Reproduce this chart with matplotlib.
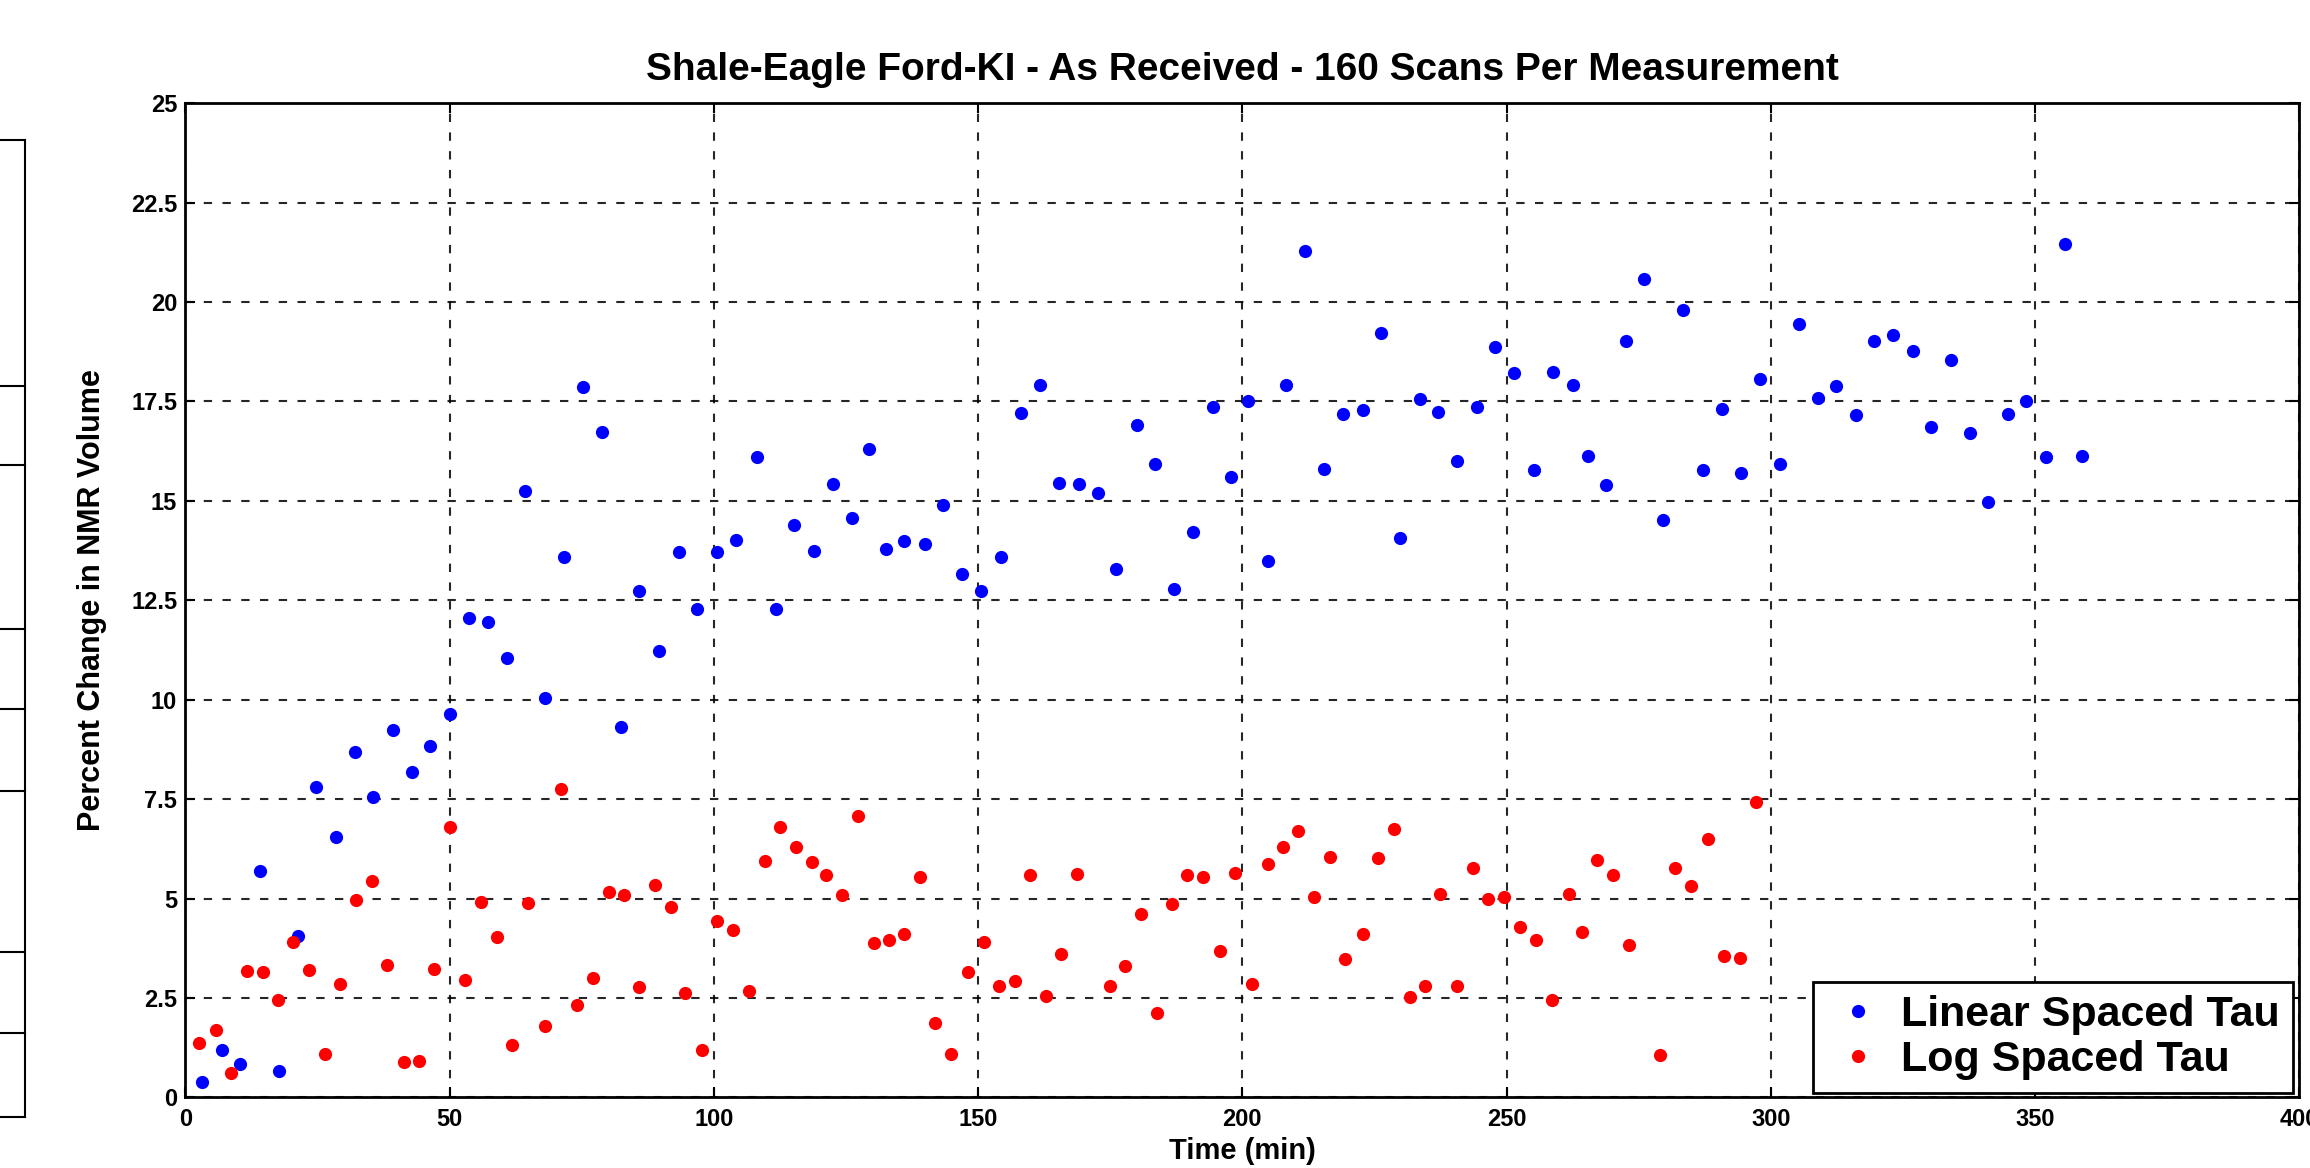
import numpy as np
import matplotlib
matplotlib.use("Agg")
import matplotlib.pyplot as plt
from matplotlib.lines import Line2D

plt.rcParams['font.family'] = ['Liberation Sans', 'DejaVu Sans']
plt.rcParams['font.weight'] = 'bold'

# Linear spaced tau (blue)
lin_time = [3.2, 7.0, 10.4, 14.1, 17.7, 21.2, 24.7, 28.5, 32.0, 35.5, 39.2, 42.8, 46.3, 50.1,
            53.6, 57.2, 60.8, 64.3, 68.1, 71.6, 75.2, 78.9, 82.4, 85.9, 89.7, 93.3, 96.8, 100.6,
            104.2, 108.2, 111.7, 115.2, 119.0, 122.6, 126.1, 129.4, 132.6, 135.9, 139.9, 143.3,
            146.9, 150.6, 154.4, 158.1, 161.7, 165.3, 169.1, 172.7, 176.1, 180.0, 183.5, 187.0,
            190.7, 194.4, 197.8, 201.1, 204.8, 208.2, 211.9, 215.5, 219.0, 222.9, 226.3, 229.8,
            233.6, 237.1, 240.7, 244.4, 247.9, 251.4, 255.2, 258.8, 262.5, 265.4, 268.8, 272.6,
            276.1, 279.7, 283.4, 287.1, 290.8, 294.4, 297.9, 301.7, 305.4, 308.9, 312.4, 316.1,
            319.6, 323.2, 326.9, 330.3, 334.2, 337.7, 341.2, 344.9, 348.4, 352.0, 355.6, 359.0]
lin_pct = [0.39, 1.19, 0.84, 5.70, 0.67, 4.06, 7.81, 6.54, 8.69, 7.56, 9.25, 8.19, 8.84, 9.64,
           12.05, 11.96, 11.06, 15.26, 10.05, 13.59, 17.86, 16.74, 9.32, 12.74, 11.23, 13.72, 12.27, 13.72,
           14.02, 16.11, 12.27, 14.40, 13.75, 15.43, 14.57, 16.30, 13.78, 14.00, 13.91, 14.89,
           13.17, 12.74, 13.59, 17.22, 17.92, 15.46, 15.43, 15.20, 13.29, 16.91, 15.94, 12.78,
           14.22, 17.36, 15.59, 17.51, 13.48, 17.92, 21.29, 15.81, 17.19, 17.28, 19.21, 14.06,
           17.56, 17.24, 16.00, 17.35, 18.88, 18.22, 15.78, 18.24, 17.92, 16.14, 15.40, 19.03,
           20.58, 14.52, 19.81, 15.78, 17.30, 15.70, 18.07, 15.94, 19.44, 17.60, 17.89, 17.17,
           19.03, 19.16, 18.77, 16.87, 18.54, 16.71, 14.97, 17.19, 17.51, 16.11, 21.46, 16.13]

# Log spaced tau (red)
log_time = [2.6, 5.7, 8.6, 11.6, 14.6, 17.6, 20.4, 23.4, 26.4, 29.3, 32.3, 35.3, 38.1, 41.3,
            44.1, 47.1, 50.0, 52.9, 56.0, 58.9, 61.8, 64.9, 68.1, 71.1, 74.0, 77.1, 80.1, 83.0,
            85.8, 88.8, 91.8, 94.6, 97.8, 100.6, 103.6, 106.6, 109.6, 112.5, 115.5, 118.5, 121.3,
            124.3, 127.3, 130.3, 133.1, 136.0, 139.0, 141.9, 144.8, 148.1, 151.1, 154.0, 156.9,
            159.8, 162.8, 165.7, 168.8, 174.9, 177.8, 180.8, 183.8, 186.7, 189.6, 192.6, 195.8,
            198.7, 201.8, 204.8, 207.7, 210.6, 213.6, 216.5, 219.5, 222.9, 225.7, 228.7, 231.7,
            234.5, 237.5, 240.6, 243.6, 246.5, 249.6, 252.5, 255.6, 258.7, 261.9, 264.3, 267.2,
            270.1, 273.2, 279.0, 281.9, 285.0, 288.1, 291.1, 294.1, 297.2]
log_pct = [1.37, 1.69, 0.62, 3.18, 3.16, 2.45, 3.91, 3.20, 1.09, 2.85, 4.96, 5.45, 3.33, 0.90,
           0.92, 3.24, 6.79, 2.95, 4.90, 4.04, 1.32, 4.89, 1.79, 7.75, 2.32, 2.99, 5.17, 5.09,
           2.78, 5.34, 4.79, 2.63, 1.19, 4.44, 4.21, 2.68, 5.95, 6.79, 6.29, 5.93, 5.58,
           5.10, 7.07, 3.87, 3.96, 4.11, 5.55, 1.88, 1.09, 3.16, 3.91, 2.81, 2.93,
           5.58, 2.56, 3.60, 5.62, 2.81, 3.30, 4.60, 2.11, 4.85, 5.58, 5.55, 3.68,
           5.65, 2.85, 5.87, 6.30, 6.70, 5.05, 6.05, 3.48, 4.10, 6.03, 6.74, 2.53,
           2.81, 5.11, 2.81, 5.78, 4.98, 5.05, 4.29, 3.96, 2.45, 5.11, 4.16, 5.97,
           5.58, 3.83, 1.06, 5.78, 5.31, 6.50, 3.56, 3.51, 7.43]

x_ticks = [0, 50, 100, 150, 200, 250, 300, 350, 400]
y_ticks = [0, 2.5, 5, 7.5, 10, 12.5, 15, 17.5, 20, 22.5, 25]
y_labels = ['0', '2.5', '5', '7.5', '10', '12.5', '15', '17.5', '20', '22.5', '25']

fig = plt.figure(figsize=(23.1, 11.68), dpi=100)
ax = fig.add_axes([0.0803, 0.0605, 0.9150, 0.8511])

ax.plot(lin_time, lin_pct, 'o', color='#0000ff', markersize=9.5, markeredgewidth=0,
        label='Linear Spaced Tau')
ax.plot(log_time, log_pct, 'o', color='#ff0000', markersize=9.5, markeredgewidth=0,
        label='Log Spaced Tau')

ax.set_xlim(0, 400)
ax.set_ylim(0, 25)
ax.set_xticks(x_ticks)
ax.set_yticks(y_ticks)
ax.set_yticklabels(y_labels)
ax.tick_params(direction='in', length=7, width=1.5, top=True, right=True,
               labelsize=17, pad=6)
ax.tick_params(axis='x', pad=8)
for lab in ax.get_xticklabels() + ax.get_yticklabels():
    lab.set_fontweight('bold')
for sp in ax.spines.values():
    sp.set_linewidth(2)

ax.grid(True, color='black', linestyle=(0, (4, 5)), linewidth=1.5, alpha=0.85)
ax.set_axisbelow(True)

ax.set_title('Shale-Eagle Ford-KI - As Received - 160 Scans Per Measurement',
             fontsize=28, fontweight='bold', pad=17)
ax.set_ylabel('Percent Change in NMR Volume', fontsize=22, fontweight='bold', labelpad=17)
ax.set_xlabel('Time (min)', fontsize=21, fontweight='bold', labelpad=4)

leg = ax.legend(loc='lower right', bbox_to_anchor=(0.997, 0.004), borderaxespad=0,
                fancybox=False, framealpha=1, edgecolor='black',
                prop={'weight': 'bold', 'size': 31}, handletextpad=0.25,
                handlelength=1.5, labelspacing=0.12, borderpad=0.3, markerscale=1.0)
leg.get_frame().set_linewidth(2)

# fragment of a neighbouring table at the left edge
fig.add_artist(Line2D([25 / 2310, 25 / 2310], [1 - 140 / 1168, 1 - 1117 / 1168],
                      transform=fig.transFigure, color='black', linewidth=1.5))
for yy in [140, 386, 465, 629, 709, 791, 952, 1033, 1117]:
    fig.add_artist(Line2D([0, 25 / 2310], [1 - yy / 1168, 1 - yy / 1168],
                          transform=fig.transFigure, color='black', linewidth=1.5))

fig.savefig('out.png', dpi=100)
